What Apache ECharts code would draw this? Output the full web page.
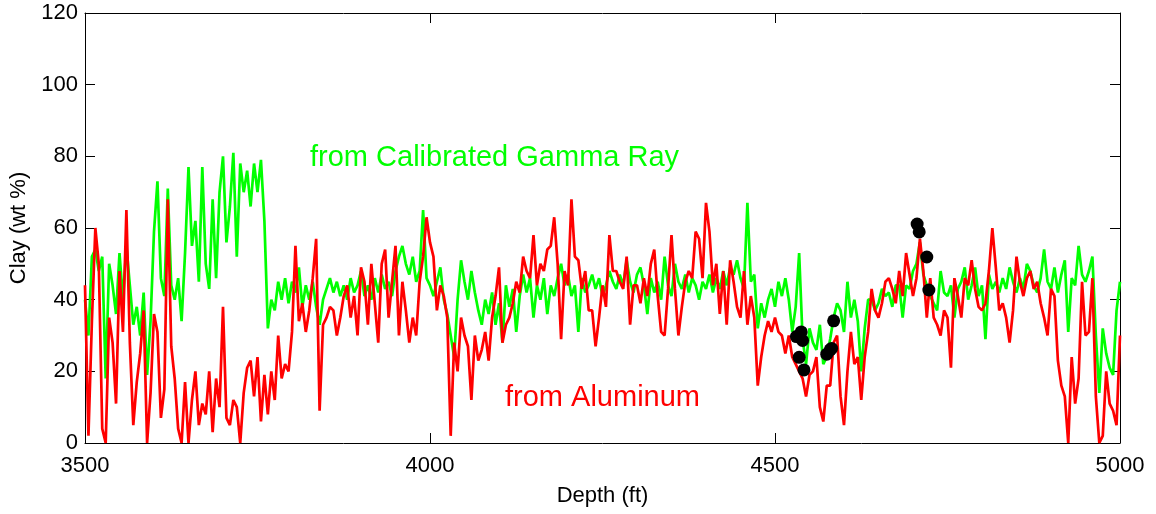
<!DOCTYPE html>
<html>
<head>
<meta charset="utf-8">
<title>Clay vs Depth</title>
<script src="https://cdn.jsdelivr.net/npm/echarts@6/dist/echarts.min.js"></script>
<style>
  html, body { margin: 0; padding: 0; background: #fff; }
  #chart { width: 1156px; height: 514px; }
</style>
</head>
<body>
<div id="chart"></div>
<script>
// depth sampling (ft)
var depthStart = 3500
var depthStep = 5

// clay from calibrated gamma ray, 3500-5000 ft every 5 ft
var gammaClay1 = [
  40, 30, 52, 54, 48, 52, 18, 50, 44, 36,
  53, 40, 55, 44, 33, 38, 30, 42, 19, 34,
  59, 73, 46, 41, 71, 44, 40, 46, 34, 53,
  77, 55, 62, 45, 77, 50, 43, 68, 46, 70,
  80, 56, 66, 81, 52, 78, 70, 76, 66, 78,
  70, 79, 62, 32, 40, 37, 45, 40, 46, 39,
  45, 42, 49, 38, 44, 40, 45, 38, 33, 40,
  43, 46, 42, 45, 41, 44, 40, 46, 42, 44,
  48, 41, 44, 40, 46, 42, 47, 43, 45, 41,
  48, 52, 55, 50, 47, 52, 45, 48, 65, 46
]
var gammaClay2 = [
  44, 41, 45, 49, 40, 36, 30, 24, 40, 51,
  45, 40, 48, 42, 37, 33, 40, 36, 42, 33,
  39, 28, 44, 38, 43, 31, 41, 47, 42, 46,
  35, 44, 40, 46, 36, 44, 41, 46, 50, 44,
  47, 41, 44, 31, 46, 42, 44, 47, 43, 46,
  41, 44, 48, 45, 43, 47, 44, 51, 45, 42,
  47, 49, 44, 36, 46, 42, 45, 40, 52, 44,
  41, 50, 45, 43, 47, 42, 46, 44, 40, 45,
  43, 47, 42, 46, 43, 48, 44, 49, 47, 51,
  46, 43, 67, 45, 47, 32, 39, 35, 40, 43
]
var gammaClay3 = [
  38, 45, 41, 46, 40, 31, 38, 53, 29, 22,
  32, 28, 26, 33, 22, 24, 29, 35, 39, 37,
  31, 45, 35, 40, 34, 20, 32, 40, 40, 37,
  39, 43, 41, 42, 38, 44, 44, 35, 44, 43,
  48, 50, 56, 47, 44, 41, 39, 37, 48, 42,
  41, 44, 35, 43, 45, 49, 40, 44, 49, 41,
  44, 29, 47, 43, 45, 42, 46, 43, 49, 45,
  42, 46, 43, 50, 48, 44, 42, 46, 54, 45,
  43, 49, 42, 47, 51, 31, 46, 44, 55, 47,
  45, 48, 52, 30, 14, 32, 25, 21, 19, 37,
  45
]

// clay from aluminum, same depths
var alumClay1 = [
  44, 2, 34, 60, 50, 4, 0, 35, 28, 11,
  48, 31, 65, 28, 5, 17, 25, 37, 0, 14,
  36, 31, 7, 15, 68, 27, 18, 4, 0, 17,
  0, 12, 20, 5, 11, 8, 20, 3, 18, 10,
  38, 7, 5, 12, 10, 0, 14, 21, 23, 13,
  24, 6, 19, 8, 20, 12, 30, 18, 22, 20,
  31, 55, 34, 39, 31, 37, 46, 57, 9, 33,
  35, 38, 37, 30, 35, 41, 44, 35, 41, 30,
  49, 45, 33, 50, 39, 28, 50, 54, 35, 45,
  55, 30, 45, 37, 28, 35, 30, 45, 52, 63
]
var alumClay2 = [
  56, 52, 37, 44, 41, 35, 2, 28, 20, 35,
  30, 27, 12, 30, 23, 26, 31, 23, 35, 41,
  49, 28, 33, 35, 39, 45, 42, 52, 48, 46,
  58, 44, 50, 48, 54, 55, 63, 50, 29, 48,
  44, 68, 52, 51, 43, 48, 37, 37, 27, 35,
  44, 38, 58, 48, 48, 45, 43, 52, 33, 44,
  44, 39, 46, 41, 50, 54, 41, 31, 30, 43,
  58, 43, 30, 38, 45, 48, 46, 59, 57, 46,
  67, 59, 44, 50, 36, 48, 33, 51, 45, 38,
  35, 48, 33, 41, 35, 16, 24, 30, 34, 31
]
var alumClay3 = [
  35, 31, 30, 25, 30, 24, 22, 20, 18, 13,
  19, 20, 24, 10, 6, 16, 16, 28, 30, 13,
  5, 20, 31, 22, 24, 12, 24, 31, 43, 37,
  35, 39, 45, 46, 43, 39, 48, 41, 53, 47,
  41, 46, 57, 48, 35, 46, 35, 33, 30, 37,
  35, 21, 46, 41, 35, 46, 44, 51, 43, 38,
  37, 39, 48, 60, 49, 37, 39, 35, 28, 37,
  52, 45, 41, 46, 48, 43, 45, 39, 35, 30,
  43, 41, 23, 16, 13, 0, 24, 11, 18, 45,
  30, 31, 46, 13, 0, 2, 20, 11, 9, 5,
  30
]

// core measurements (black dots)
var coreDepth = [4531, 4535, 4538, 4540, 4542, 4575, 4580, 4582, 4585, 4706, 4709, 4720, 4723]
var coreClay = [29.7, 23.9, 31, 28.6, 20.4, 24.8, 26, 26.4, 34.1, 61.1, 58.9, 51.9, 42.7]

var xTicks = { min: 3500, max: 5000, interval: 500 }
var yTicks = { min: 0, max: 120, interval: 20 }

var fontFamily = '"Liberation Sans", Arial, Helvetica, sans-serif'

function toPairs (values) {
  var out = []
  for (var i = 0; i < values.length; i++) {
    out.push([depthStart + i * depthStep, values[i]])
  }
  return out
}

var gammaData = toPairs(gammaClay1.concat(gammaClay2, gammaClay3))
var alumData = toPairs(alumClay1.concat(alumClay2, alumClay3))
var coreData = coreDepth.map(function (d, i) { return [d, coreClay[i]] })

function boxAxis (ticks, position, showLabels) {
  return {
    type: 'value',
    position: position,
    min: ticks.min,
    max: ticks.max,
    interval: ticks.interval,
    axisLine: { show: true, onZero: false, lineStyle: { color: '#000', width: 1 } },
    axisTick: { show: true, inside: true, length: 10, lineStyle: { color: '#000', width: 1 } },
    axisLabel: {
      show: showLabels,
      color: '#000',
      fontSize: 22,
      fontFamily: fontFamily,
      formatter: function (v) { return String(v) }
    },
    splitLine: { show: false }
  }
}

var xBottom = boxAxis(xTicks, 'bottom', true)
xBottom.axisLabel.margin = 12
xBottom.name = 'Depth (ft)'
xBottom.nameLocation = 'middle'
xBottom.nameGap = 42
xBottom.nameTextStyle = { color: '#000', fontSize: 22, fontFamily: fontFamily }
var xTop = boxAxis(xTicks, 'top', false)

var yLeft = boxAxis(yTicks, 'left', true)
yLeft.axisLabel.margin = 7
yLeft.name = 'Clay (wt %)'
yLeft.nameLocation = 'middle'
yLeft.nameGap = 50
yLeft.nameTextStyle = { color: '#000', fontSize: 22, fontFamily: fontFamily }
var yRight = boxAxis(yTicks, 'right', false)

var myChart = echarts.init(document.getElementById('chart'))
var option = {
  animation: false,
  backgroundColor: '#fff',
  grid: { left: 85, right: 36, top: 13, bottom: 71 },
  xAxis: [xBottom, xTop],
  yAxis: [yLeft, yRight],
  graphic: [
    {
      type: 'text',
      x: 310,
      y: 158,
      style: { text: 'from Calibrated Gamma Ray', fill: '#00ff00', font: '29px ' + fontFamily, verticalAlign: 'middle' }
    },
    {
      type: 'text',
      x: 505,
      y: 398,
      style: { text: 'from Aluminum', fill: '#ff0000', font: '29px ' + fontFamily, verticalAlign: 'middle' }
    }
  ],
  series: [
    {
      name: 'gamma',
      type: 'line',
      data: gammaData,
      showSymbol: false,
      lineStyle: { color: '#00ff00', width: 2.7 },
      clip: true
    },
    {
      name: 'aluminum',
      type: 'line',
      data: alumData,
      showSymbol: false,
      lineStyle: { color: '#ff0000', width: 2.7 },
      clip: true
    },
    {
      name: 'core',
      type: 'scatter',
      data: coreData,
      symbolSize: 13,
      itemStyle: { color: '#000', opacity: 1 },
      z: 5
    }
  ]
}
myChart.setOption(option)
</script>
</body>
</html>
